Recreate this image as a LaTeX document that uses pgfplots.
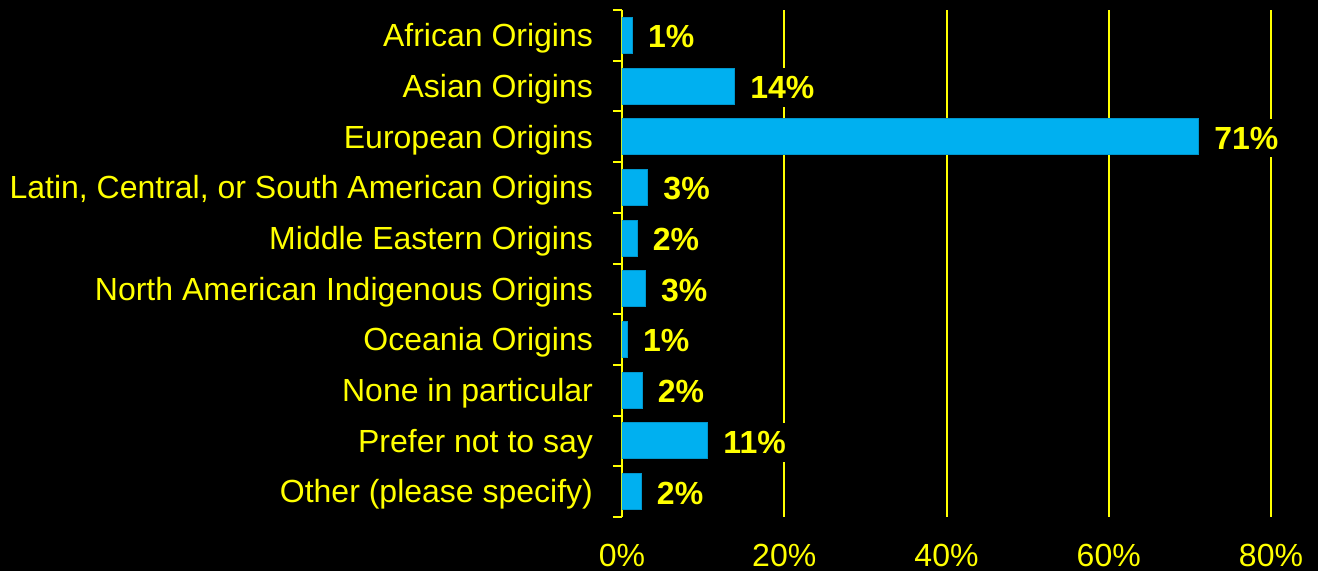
\documentclass[border=0pt]{standalone}
\usepackage{fontspec}
\setmainfont{Liberation Sans}
\usepackage{pgfplots}
\pgfplotsset{compat=1.18}
\definecolor{barc}{HTML}{00B0F0}
\definecolor{yel}{HTML}{FFFF00}
\begin{document}
\begin{tikzpicture}
\fill[black] (0,0) rectangle (659pt,285.5pt);
\begin{axis}[
  at={(311pt,27pt)}, anchor=south west,
  scale only axis, width=324.5pt, height=253.5pt,
  xbar, bar width=18pt,
  xmin=0, xmax=80, ymin=-0.5, ymax=9.5, y dir=reverse,
  axis lines*=left,
  x axis line style={draw=none},
  y axis line style={yel, line width=1pt},
  xtick={0,20,40,60,80},
  xticklabel={\pgfmathprintnumber{\tick}\%},
  xtick style={draw=none},
  xmajorgrids, major grid style={yel, line width=1pt},
  ytick={0,...,9},
  yticklabels={African Origins, Asian Origins, European Origins, {Latin, Central, or South American Origins}, Middle Eastern Origins, North American Indigenous Origins, Oceania Origins, None in particular, Prefer not to say, Other (please specify)},
  major tick length=0pt,
  minor ytick={-0.5,0.5,...,9.5},
  minor tick length=4.5pt, tick align=outside,
  minor tick style={yel, line width=1pt},
  /pgf/number format/assume math mode=true,
  ticklabel style={font=\fontsize{16}{19}\selectfont, text=yel},
  yticklabel style={xshift=-11pt, yshift=-1.5pt},
  xticklabel style={yshift=-10pt},
  point meta=explicit symbolic,
  nodes near coords,
  nodes near coords style={font=\fontsize{16}{19}\bfseries\selectfont, text=yel, fill=black, inner sep=4pt, anchor=west, xshift=3.5pt, yshift=-0.7pt},
]
\addplot[fill=barc, draw=barc!85!black, line width=0.5pt] coordinates {
  (1.3,0) [1\%]
  (13.9,1) [14\%]
  (71.1,2) [71\%]
  (3.2,3) [3\%]
  (1.9,4) [2\%]
  (2.9,5) [3\%]
  (0.7,6) [1\%]
  (2.5,7) [2\%]
  (10.6,8) [11\%]
  (2.4,9) [2\%]
};
\end{axis}
\pgfresetboundingbox
\path[use as bounding box] (0,0) rectangle (659pt,285.5pt);
\end{tikzpicture}
\end{document}
